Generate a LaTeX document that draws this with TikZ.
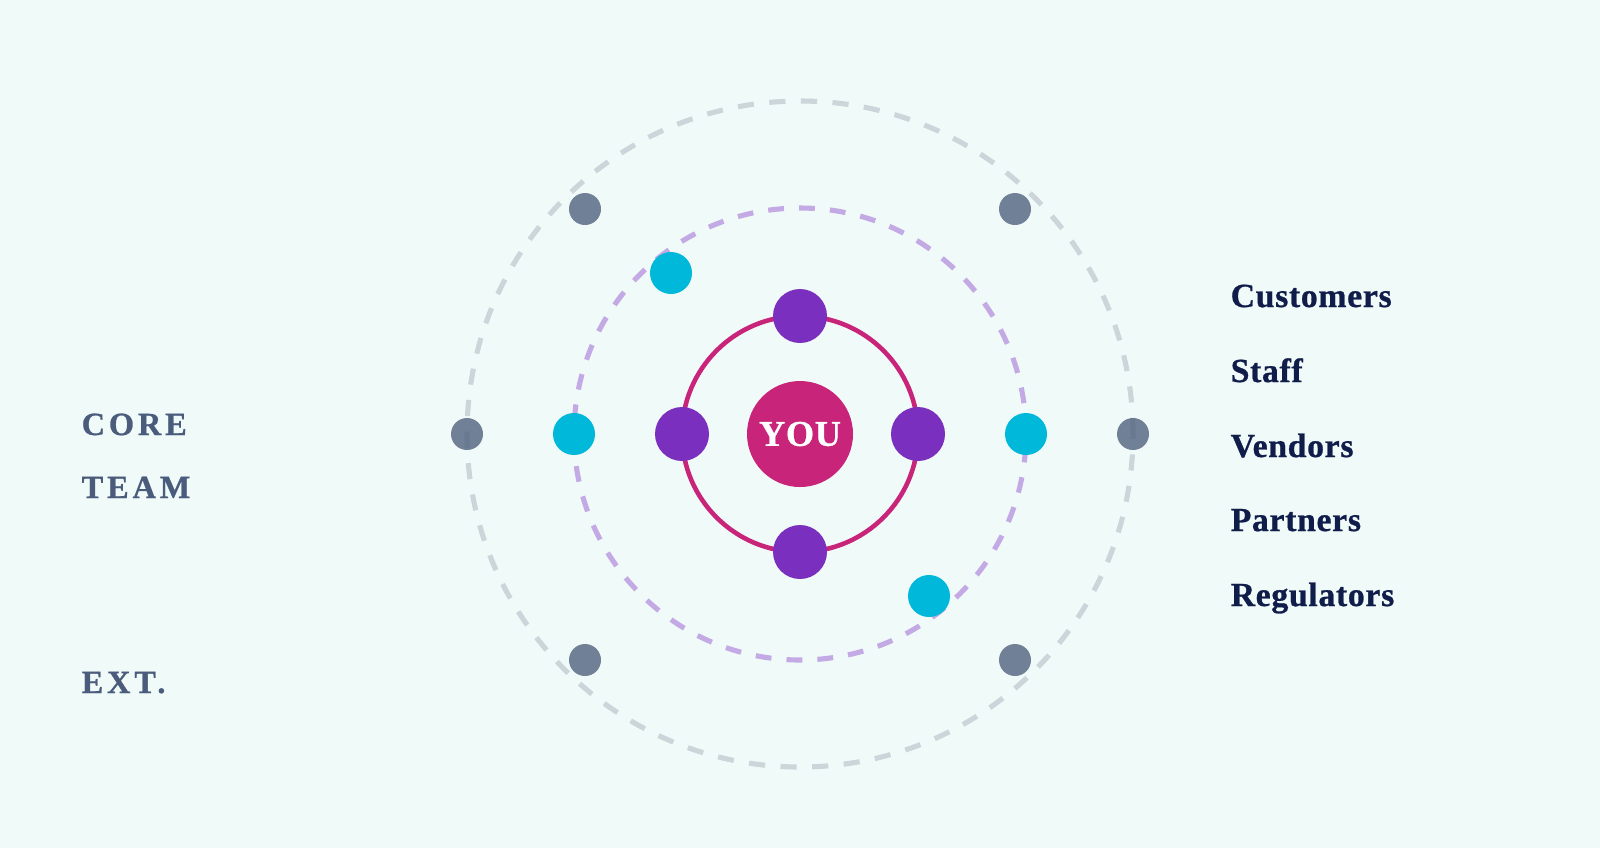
\documentclass[tikz,border=0pt]{standalone}
\usepackage{fontspec}
\setmainfont{Liberation Serif}
\newfontfamily\spacedfont[LetterSpace=12,FakeBold=0.8]{Liberation Serif Bold}
\newfontfamily\namefont[LetterSpace=2,FakeBold=0.8]{Liberation Serif Bold}
\usepackage{tikz}
\definecolor{bgmint}{RGB}{240,250,248}
\definecolor{ringgrey}{RGB}{203,213,218}
\definecolor{ringlilac}{RGB}{196,170,228}
\definecolor{youpink}{RGB}{200,36,122}
\definecolor{innerviolet}{RGB}{123,47,190}
\definecolor{midcyan}{RGB}{0,184,217}
\definecolor{outerslate}{RGB}{81,98,126}
\definecolor{labelslate}{RGB}{74,91,124}
\definecolor{labelnavy}{RGB}{16,29,74}

\begin{document}
\begin{tikzpicture}[line join=round,x=1.0cm,y=1.0cm,
	outerdot/.style={circle,fill=outerslate,fill opacity=0.8,minimum size=0.32cm,inner sep=0pt},
	middot/.style={circle,fill=midcyan,minimum size=0.42cm,inner sep=0pt},
	innerdot/.style={circle,fill=innerviolet,minimum size=0.54cm,inner sep=0pt},
	grouplabel/.style={anchor=base west,inner sep=0pt,text=labelslate,font=\spacedfont\fontsize{9.2}{11}\selectfont},
	namelabel/.style={anchor=base west,inner sep=0pt,text=labelnavy,font=\namefont\fontsize{9.6}{11}\selectfont}]
			\clip(0,-8.48) rectangle (16,0);
			\fill [color=bgmint] (0,-8.48) rectangle (16,0);
			\coordinate (o) at (8,-4.34);
			\draw [color=ringgrey,line width=1.45pt,dash pattern=on 4.6pt off 4.4pt] (o) circle (3.33);
			\draw [color=ringlilac,line width=1.45pt,dash pattern=on 4.5pt off 4.3pt] (o) circle (2.26);
			\draw [color=youpink,line width=1.3pt] (o) circle (1.18);
			\node [outerdot] (ext1) at (5.85,-2.09) {};
			\node [outerdot] (ext2) at (10.15,-2.09) {};
			\node [outerdot] (ext3) at (4.67,-4.34) {};
			\node [outerdot] (ext4) at (11.33,-4.34) {};
			\node [outerdot] (ext5) at (5.85,-6.6) {};
			\node [outerdot] (ext6) at (10.15,-6.6) {};
			\node [middot] (mid1) at (6.71,-2.73) {};
			\node [middot] (mid2) at (5.74,-4.34) {};
			\node [middot] (mid3) at (10.26,-4.34) {};
			\node [middot] (mid4) at (9.29,-5.96) {};
			\node [innerdot] (core1) at (8,-3.16) {};
			\node [innerdot] (core2) at (6.82,-4.34) {};
			\node [innerdot] (core3) at (9.18,-4.34) {};
			\node [innerdot] (core4) at (8,-5.52) {};
			\node [circle,fill=youpink,minimum size=1.06cm,inner sep=0pt,text=white,font=\namefont\fontsize{10.3}{12}\selectfont] (you) at (o) {YOU};
			\node [grouplabel] (core) at (0.81,-4.35) {CORE};
			\node [grouplabel] (team) at (0.81,-4.98) {TEAM};
			\node [grouplabel] (ext) at (0.81,-6.93) {EXT.};
			\node [namelabel] (customers) at (12.3,-3.07) {Customers};
			\node [namelabel] (staff) at (12.3,-3.82) {Staff};
			\node [namelabel] (vendors) at (12.3,-4.57) {Vendors};
			\node [namelabel] (partners) at (12.3,-5.31) {Partners};
			\node [namelabel] (regulators) at (12.3,-6.06) {Regulators};
			\end{tikzpicture}
\end{document}
